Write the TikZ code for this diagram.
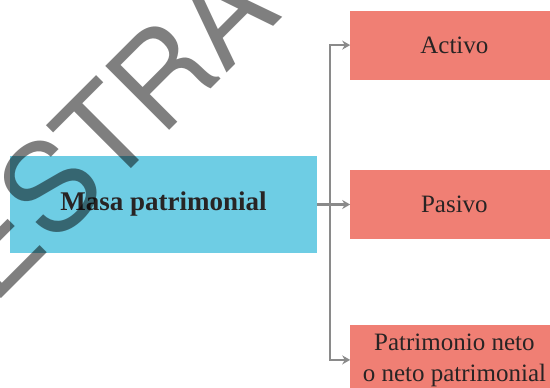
\documentclass[tikz,border=0pt]{standalone}
\usepackage{fontspec}
\setmainfont{Liberation Serif}
\newfontfamily\stampfont{TeX Gyre Heros}
\usetikzlibrary{positioning}
\usetikzlibrary{arrows.meta}
\usetikzlibrary{calc}
\definecolor{masablue}{RGB}{110,205,228}
\definecolor{partred}{RGB}{240,127,116}
\definecolor{linkgray}{RGB}{138,138,138}
\definecolor{inkdark}{RGB}{40,36,36}

\begin{document}
\begin{tikzpicture}[x=1pt, y=1pt,
				mass/.style={fill=masablue, rectangle, inner sep=0pt, minimum width=307pt, minimum height=97pt, text=inkdark, font=\fontsize{27}{30}\selectfont\bfseries},
				part/.style={fill=partred, rectangle, inner sep=0pt, minimum width=208pt, minimum height=69pt, text=inkdark, font=\fontsize{25}{31}\selectfont},
				link/.style={draw=linkgray, line width=2.2pt, -{Stealth[length=8pt, width=9pt]}},
				every text node part/.style={align=center}]
				\clip (0, 0) rectangle (550, -388);
				\node[mass](node1) at (163.5, -204.5) {Masa patrimonial};
				
				\node[part, right=33pt of node1](node12) {Pasivo};
				
				\node[part, above=90pt of node12](node11) {Activo};
				
				\node[part, below=86pt of node12](node13) {Patrimonio neto\\o neto patrimonial};
				
				\coordinate (split) at ($(node1.east)+(13, 0)$);
				\draw[link] (node1.east) -- (node12.west);
				\draw[link] (split) |- (node11.west);
				\draw[link] (split) |- (node13.west);
				
				\node[rotate=45, anchor=base west, inner sep=0pt, text=black, text opacity=0.5, font=\stampfont\fontsize{124}{124}\selectfont](stamp) at (-142.6, -442.6) {MUESTRA};
			\end{tikzpicture}
\end{document}
